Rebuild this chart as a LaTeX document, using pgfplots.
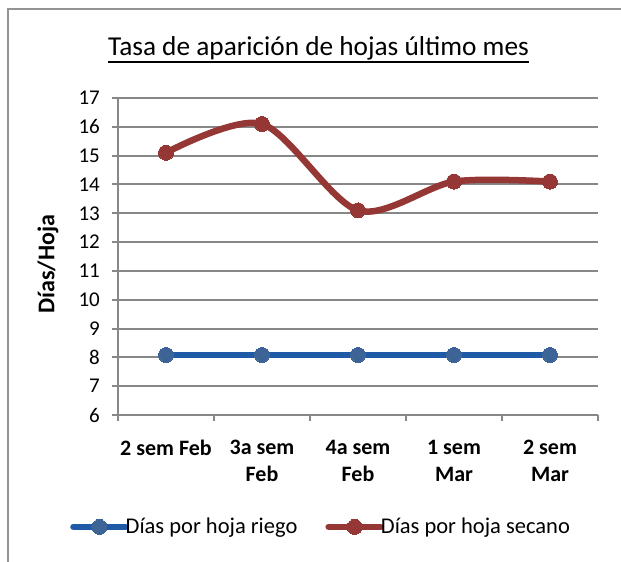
\documentclass[border=0pt]{standalone}
\usepackage{fontspec}
\setmainfont{Carlito}
\usepackage{pgfplots}
\pgfplotsset{compat=1.18}
\definecolor{riegoL}{HTML}{1F5AA6}
\definecolor{riegoM}{HTML}{3C6496}
\definecolor{secano}{HTML}{953735}
\definecolor{gridc}{HTML}{878787}
\begin{document}
\begin{tikzpicture}
\path[use as bounding box] (0,0) rectangle (621bp,562bp);
\draw[gridc!90, line width=1.5bp] (8bp,0) -- (8bp,553bp) -- (621bp,553bp);
\node[inner sep=0pt, anchor=base, font=\fontsize{27.3bp}{32bp}\selectfont] (T) at (318.5bp,506bp) {Tasa de aparición de hojas último mes};
\draw[line width=1.6bp] ([yshift=-6bp]T.base west) -- ([yshift=-6bp]T.base east);
\begin{axis}[
  at={(118bp,147bp)}, anchor=south west,
  scale only axis, width=480bp, height=317bp,
  xmin=0, xmax=5, ymin=6, ymax=17,
  axis x line*=bottom, axis y line*=left,
  axis line style={gridc, line width=2bp, -},
  xtick={0.5,1.5,2.5,3.5,4.5},
  xticklabels={2 sem Feb,{3a sem\\Feb},{4a sem\\Feb},{1 sem\\Mar},{2 sem\\Mar}},
  xtick style={draw=none},
  xticklabel style={font=\bfseries\fontsize{22bp}{27bp}\selectfont, align=center, anchor=north, inner sep=0pt, yshift=-19bp},
  ytick={6,...,17},
  ymajorgrids, grid style={gridc, line width=2bp},
  tick align=outside, major tick length=6bp,
  ytick style={gridc, line width=2bp},
  yticklabel style={font=\fontsize{21bp}{25bp}\selectfont, anchor=east, inner sep=0pt, xshift=-12bp},
  /pgf/number format/assume math mode=true,
  ylabel={Días/Hoja},
  ylabel style={font=\bfseries\fontsize{24bp}{28bp}\selectfont, at={(axis description cs:-0.146,0.476)}, anchor=center, rotate=0},
  legend columns=2,
  legend style={draw=none, fill=none, at={(axis description cs:-0.1,-0.353)}, anchor=west, inner sep=0pt,
    font=\fontsize{22.5bp}{27bp}\selectfont,
    nodes={inner sep=0pt}},
  /tikz/every odd column/.append style={column sep=-3bp},
  /tikz/every even column/.append style={column sep=28bp},
  legend image code/.code={
    \draw[#1, mark=none, line cap=round] (0bp,0bp) -- (52bp,0bp);
    \draw[#1] plot coordinates {(26bp,0bp)};
  },
  clip=false,
]
\addplot[riegoL, line width=6.5bp, smooth, mark=*, mark size=7.5bp, mark options={riegoM, fill=riegoM, line width=0pt}] coordinates {(0.5,8.08) (1.5,8.08) (2.5,8.08) (3.5,8.08) (4.5,8.08)};
\addlegendentry{Días por hoja riego}
\addplot[secano, line width=6.5bp, smooth, mark=*, mark size=7.5bp, mark options={secano, fill=secano, line width=0pt}] coordinates {(0.5,15.1) (1.5,16.1) (2.5,13.1) (3.5,14.1) (4.5,14.1)};
\addlegendentry{Días por hoja secano}
\foreach \i in {0,1,2,3,4,5} {
  \edef\tmp{\noexpand\draw[gridc, line width=2bp] (axis cs:\i,6) -- ([yshift=-6bp]axis cs:\i,6);}\tmp
}
\end{axis}
\end{tikzpicture}
\end{document}
